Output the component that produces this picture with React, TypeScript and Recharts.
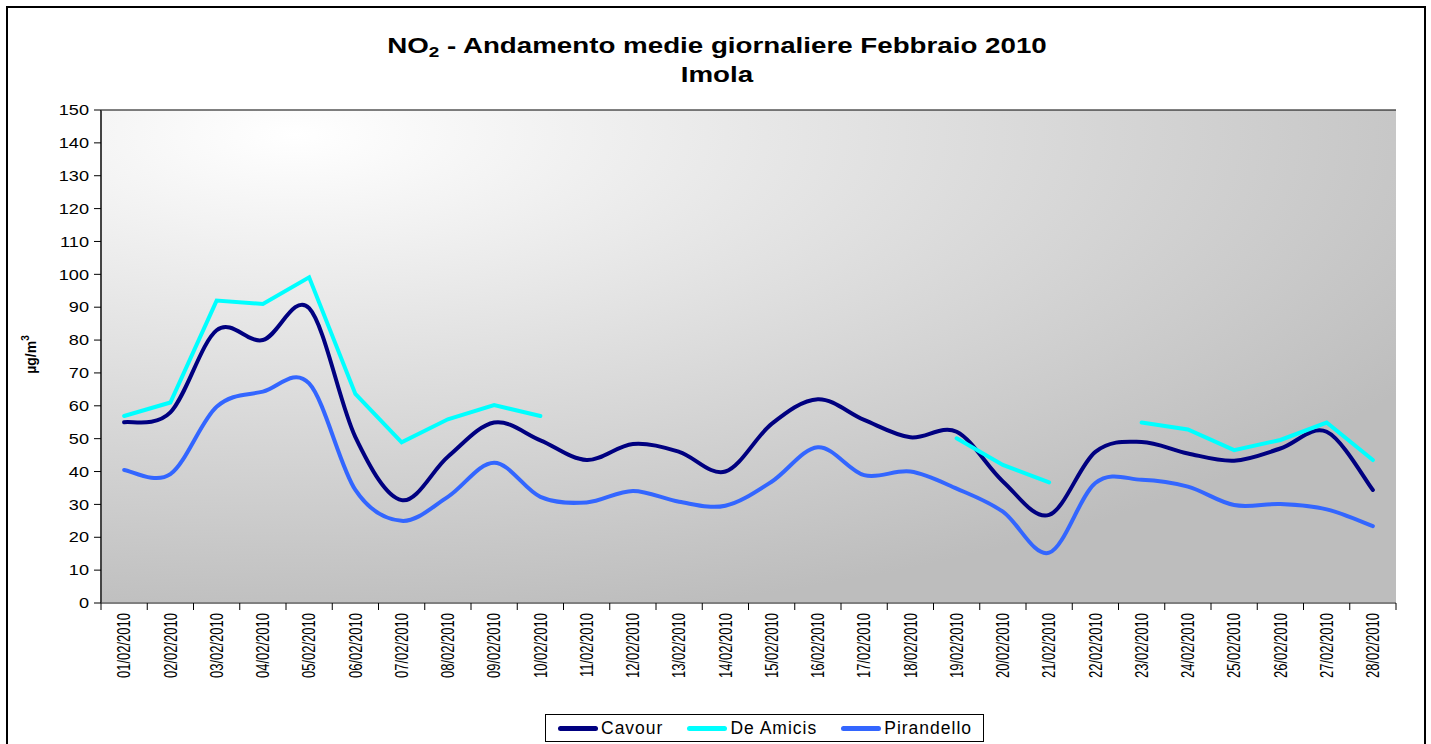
import {
  CartesianGrid,
  ComposedChart,
  Label,
  Line,
  XAxis,
  YAxis,
} from 'recharts'

const DAYS = [
  '01/02/2010', '02/02/2010', '03/02/2010', '04/02/2010', '05/02/2010',
  '06/02/2010', '07/02/2010', '08/02/2010', '09/02/2010', '10/02/2010',
  '11/02/2010', '12/02/2010', '13/02/2010', '14/02/2010', '15/02/2010',
  '16/02/2010', '17/02/2010', '18/02/2010', '19/02/2010', '20/02/2010',
  '21/02/2010', '22/02/2010', '23/02/2010', '24/02/2010', '25/02/2010',
  '26/02/2010', '27/02/2010', '28/02/2010',
]

const CAVOUR = [
  55, 58, 83, 80, 89.7, 50.5, 31.3, 44.5, 54.9, 49.5, 43.5, 48.4, 46, 40,
  54.5, 62, 55.7, 50.4, 52.1, 37, 26.8, 46, 49, 45.5, 43.3, 47, 52.1, 34.4,
]

const DE_AMICIS = [
  56.9, 61, 92, 91, 99.1, 63.6, 48.9, 55.9, 60.2, 56.9, null, null, null, null,
  null, null, null, null, 50.1, 42, 36.7, null, 54.9, 52.8, 46.5, 49.6, 54.9, 43.5,
]

const PIRANDELLO = [
  40.5, 39.2, 59.7, 64.3, 66.8, 34.4, 25, 32.3, 42.7, 32.3, 30.6, 34.1, 30.8,
  29.6, 36.9, 47.4, 38.9, 40, 34.8, 27.8, 15.3, 36.5, 37.5, 35.4, 29.8, 30.1,
  28.5, 23.4,
]

const Y_TICKS = [0, 10, 20, 30, 40, 50, 60, 70, 80, 90, 100, 110, 120, 130, 140, 150]
const GRID_TICKS = Y_TICKS.slice(0, -1)

const SERIES = [
  { key: 'cavour', name: 'Cavour', color: '#000080', smooth: true },
  { key: 'deAmicis', name: 'De Amicis', color: '#00ffff', smooth: false },
  { key: 'pirandello', name: 'Pirandello', color: '#3366ff', smooth: true },
]

const data = DAYS.map((day, i) => ({
  day,
  cavour: CAVOUR[i],
  deAmicis: DE_AMICIS[i],
  pirandello: PIRANDELLO[i],
}))

const W = 1431
const H = 744
const PLOT_LEFT = 101
const PLOT_RIGHT = 1396
const PLOT_TOP = 110
const PLOT_BOTTOM = 603
const Y_AXIS_W = 60
const X_AXIS_H = 80
const BAND = (PLOT_RIGHT - PLOT_LEFT) / DAYS.length
const FONT = '"Liberation Sans", Arial, sans-serif'

// excel-like smoothed line (catmull-rom through every point)
const excelCurve = (context: any) => {
  let pts: number[][] = []
  return {
    areaStart() {},
    areaEnd() {},
    lineStart() {
      pts = []
    },
    point(x: number, y: number) {
      pts.push([+x, +y])
    },
    lineEnd() {
      if (!pts.length) return
      context.moveTo(pts[0][0], pts[0][1])
      for (let i = 0; i < pts.length - 1; i++) {
        const p0 = pts[i - 1] ?? pts[i]
        const p1 = pts[i]
        const p2 = pts[i + 1]
        const p3 = pts[i + 2] ?? p2
        context.bezierCurveTo(
          p1[0] + (p2[0] - p0[0]) / 6,
          p1[1] + (p2[1] - p0[1]) / 6,
          p2[0] - (p3[0] - p1[0]) / 6,
          p2[1] - (p3[1] - p1[1]) / 6,
          p2[0],
          p2[1],
        )
      }
    },
  }
}

const XTick = ({ x, y, payload, index }: any) => {
  const half = BAND / 2
  return (
    <g>
      <line x1={x - half} x2={x - half} y1={y} y2={y + 7} stroke="#000" />
      {index === DAYS.length - 1 && (
        <line x1={x + half} x2={x + half} y1={y} y2={y + 7} stroke="#000" />
      )}
      <text
        transform={`translate(${x},${y + 10}) scale(1.35,1) rotate(-90)`}
        textAnchor="end"
        dy="0.35em"
        fontSize={13}
        fontFamily={FONT}
        fill="#000"
      >
        {payload.value}
      </text>
    </g>
  )
}

const YTick = ({ x, y, payload }: any) => (
  <g transform={`translate(${x},${y})`}>
    <text
      transform="scale(1.25,1)"
      textAnchor="end"
      dy="0.36em"
      fontSize={14.5}
      fontFamily={FONT}
      fill="#000"
    >
      {payload.value}
    </text>
  </g>
)

const UnitLabel = ({ viewBox }: any) => (
  <text
    transform={`translate(${viewBox.x - 5},${PLOT_TOP + (PLOT_BOTTOM - PLOT_TOP) / 2 - 2}) rotate(-90)`}
    textAnchor="middle"
    fontSize={14}
    fontWeight="bold"
    fontFamily={FONT}
    fill="#000"
  >
    µg/m
    <tspan fontSize={10} dy={-7}>
      3
    </tspan>
  </text>
)

const Legend = () => (
  <div
    style={{
      position: 'absolute',
      left: 545,
      top: 714,
      width: 439,
      height: 28,
      boxSizing: 'border-box',
      border: '1px solid #000',
      background: '#fff',
      display: 'flex',
      alignItems: 'center',
      paddingLeft: 12,
      gap: 24,
      fontFamily: FONT,
      fontSize: 17.5,
      letterSpacing: 1,
    }}
  >
    {SERIES.map((s) => (
      <div key={s.key} style={{ display: 'flex', alignItems: 'center', gap: 3 }}>
        <span
          style={{
            display: 'inline-block',
            width: 40,
            height: 5,
            borderRadius: 3,
            background: s.color,
          }}
        />
        <span>{s.name}</span>
      </div>
    ))}
  </div>
)

export default function App() {
  return (
    <div
      style={{
        position: 'absolute',
        left: 0,
        top: 0,
        width: W,
        height: H,
        overflow: 'hidden',
        background: '#fff',
      }}
    >
      <svg width={0} height={0} style={{ position: 'absolute' }}>
        <defs>
          <radialGradient id="plotBg" cx="0.15" cy="0.05" r="1">
            <stop offset="0" stopColor="#ffffff" />
            <stop offset="1" stopColor="#bdbdbd" />
          </radialGradient>
        </defs>
      </svg>
      <div
        style={{
          position: 'absolute',
          left: 6,
          top: 6,
          width: 1420,
          height: 780,
          border: '2px solid #000',
          boxSizing: 'border-box',
        }}
      />
      <ComposedChart
        width={W}
        height={H}
        data={data}
        margin={{
          top: PLOT_TOP,
          right: W - PLOT_RIGHT,
          bottom: H - PLOT_BOTTOM - X_AXIS_H,
          left: PLOT_LEFT - Y_AXIS_W,
        }}
        style={{ position: 'absolute', left: 0, top: 0 }}
      >
        <CartesianGrid
          vertical={false}
          yAxisId="grid"
          stroke="#000"
          fill="url(#plotBg)"
          fillOpacity={1}
        />
        <XAxis
          dataKey="day"
          height={X_AXIS_H}
          interval={0}
          padding={{ left: BAND / 2, right: BAND / 2 }}
          tickLine={false}
          tickSize={0}
          tickMargin={0}
          tick={<XTick />}
          axisLine={{ stroke: '#808080', strokeWidth: 2 }}
        />
        <XAxis
          xAxisId="top"
          dataKey="day"
          orientation="top"
          height={0}
          tick={false}
          tickLine={false}
          axisLine={{ stroke: '#c4c4c4', strokeWidth: 2 }}
        />
        <YAxis
          width={Y_AXIS_W}
          domain={[0, 150]}
          ticks={Y_TICKS}
          interval={0}
          tickSize={7}
          tickMargin={5}
          tick={<YTick />}
          tickLine={{ stroke: '#000' }}
          axisLine={{ stroke: '#444', strokeWidth: 2 }}
        >
          <Label content={<UnitLabel />} />
        </YAxis>
        <YAxis yAxisId="grid" hide domain={[0, 150]} ticks={GRID_TICKS} />
        <YAxis
          yAxisId="right"
          orientation="right"
          width={0}
          domain={[0, 150]}
          tick={false}
          tickLine={false}
          axisLine={{ stroke: '#8c8c8c', strokeWidth: 2 }}
        />
        {SERIES.map((s) => (
          <Line
            key={s.key}
            dataKey={s.key}
            name={s.name}
            type={s.smooth ? (excelCurve as any) : 'linear'}
            stroke={s.color}
            strokeWidth={4}
            strokeLinecap="round"
            dot={false}
            activeDot={false}
            isAnimationActive={false}
          />
        ))}
      </ComposedChart>
      <div
        style={{
          position: 'absolute',
          left: 2,
          top: 32,
          width: W,
          textAlign: 'center',
          fontFamily: FONT,
          fontWeight: 'bold',
          fontSize: 22,
          lineHeight: '27px',
          transform: 'scaleX(1.26)',
          transformOrigin: '717.5px 0',
        }}
      >
        <div>
          NO
          <span style={{ fontSize: 15, position: 'relative', top: 4 }}>2</span> -
          Andamento medie giornaliere Febbraio 2010
        </div>
        <div>Imola</div>
      </div>
      <Legend />
    </div>
  )
}
